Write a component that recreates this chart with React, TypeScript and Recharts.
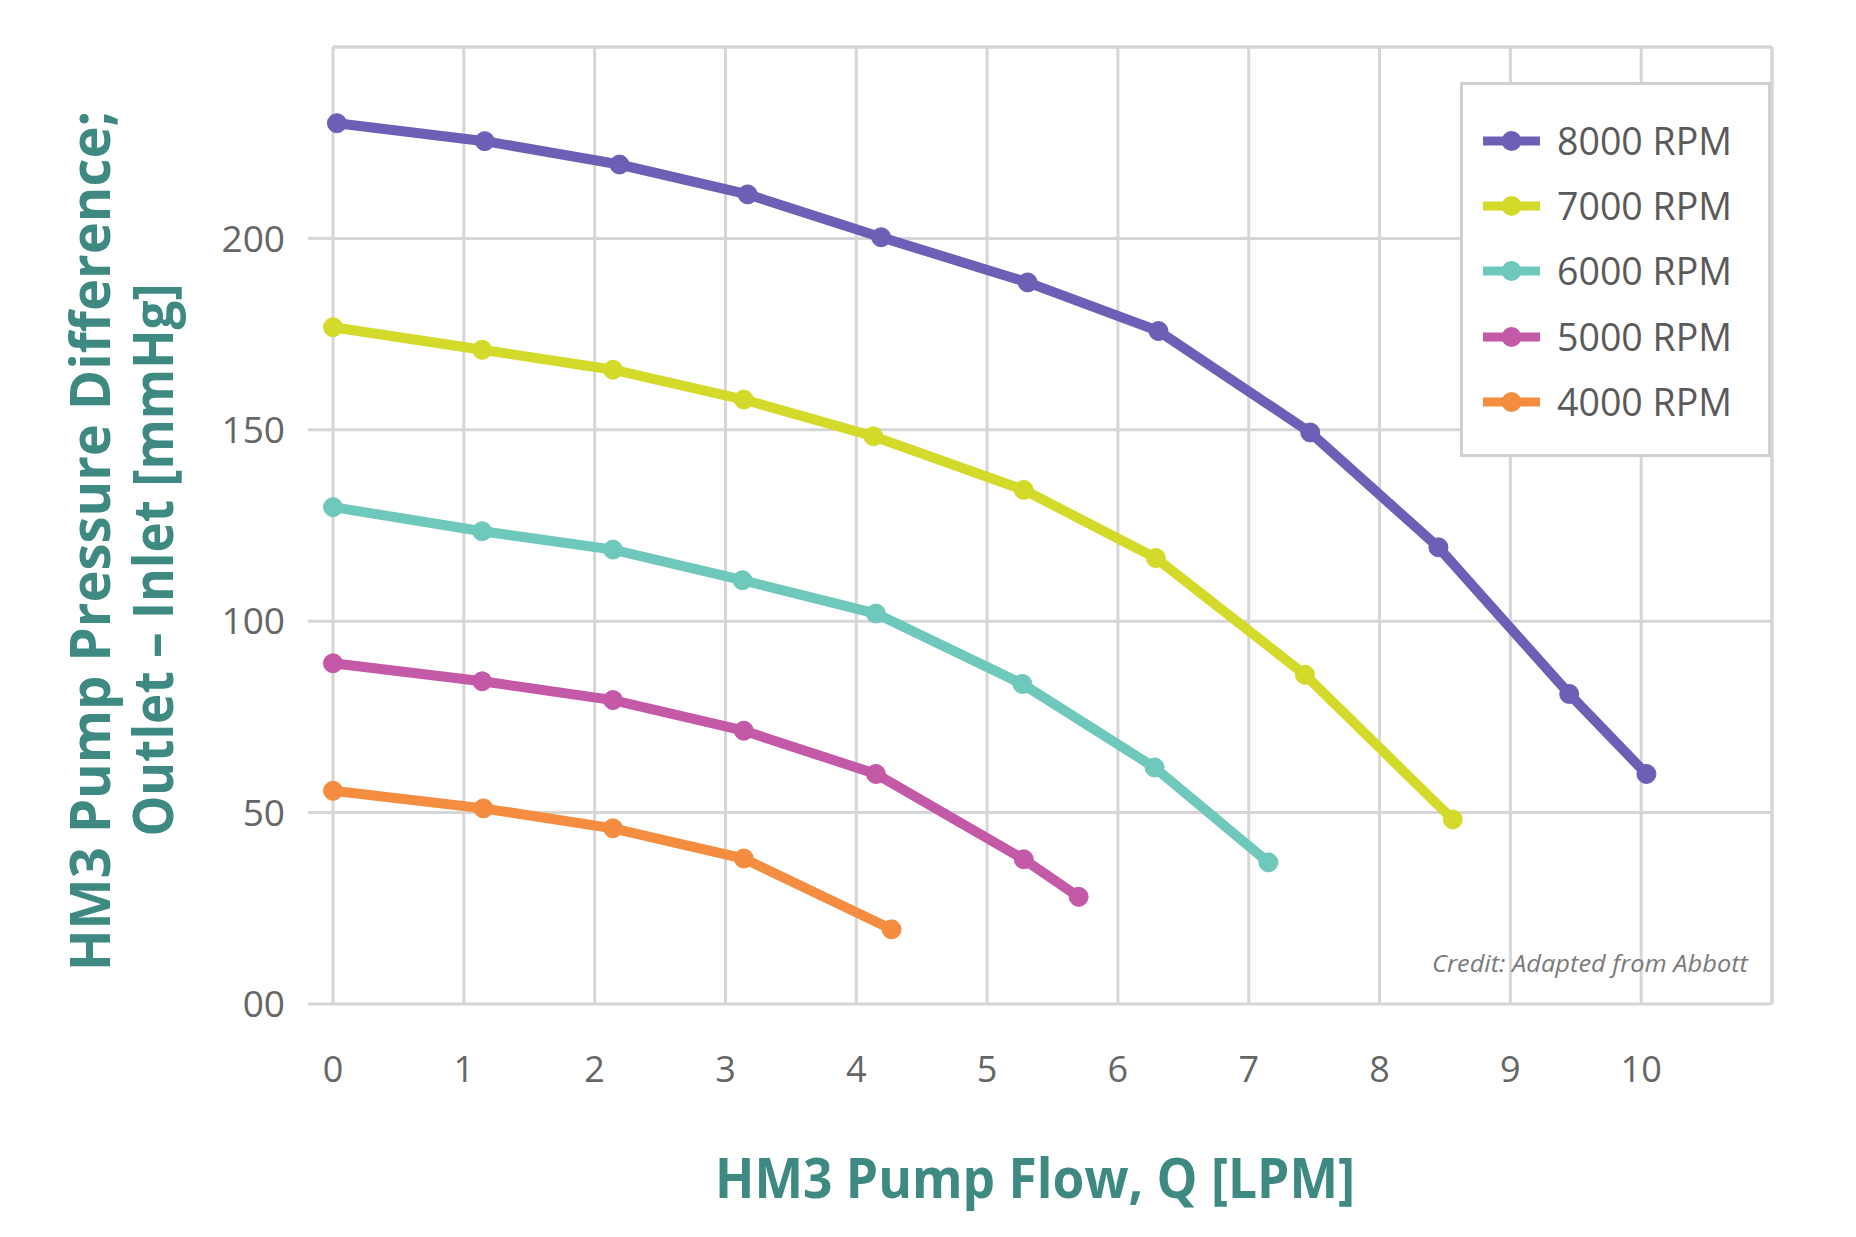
import React from 'react';
import { LineChart, Line, XAxis, YAxis, CartesianGrid, ReferenceLine, Legend } from 'recharts';

const flow8000 = [0.03, 1.16, 2.19, 3.17, 4.19, 5.31, 6.31, 7.47, 8.45, 9.45, 10.04];
const pressure8000 = [230.1, 225.4, 219.3, 211.5, 200.3, 188.5, 175.8, 149.3, 119.3, 81.0, 60.1];
const flow7000 = [0, 1.14, 2.14, 3.14, 4.13, 5.28, 6.29, 7.43, 8.56];
const pressure7000 = [176.8, 170.9, 165.7, 157.9, 148.3, 134.3, 116.5, 86.0, 48.2];
const flow6000 = [0, 1.14, 2.14, 3.13, 4.15, 5.27, 6.28, 7.15];
const pressure6000 = [129.8, 123.5, 118.7, 110.7, 102.0, 83.6, 61.8, 37.0];
const flow5000 = [0, 1.14, 2.14, 3.14, 4.15, 5.28, 5.7];
const pressure5000 = [89.0, 84.3, 79.4, 71.4, 60.1, 37.8, 28.0];
const flow4000 = [0, 1.15, 2.14, 3.14, 4.27];
const pressure4000 = [55.7, 51.1, 45.9, 38.0, 19.5];

const seriesNames = ['8000 RPM', '7000 RPM', '6000 RPM', '5000 RPM', '4000 RPM'];
const seriesColors = ['#6c60b6', '#d4da2a', '#6fc8bc', '#c459a7', '#f48d3f'];

const xTicks = [0, 1, 2, 3, 4, 5, 6, 7, 8, 9, 10];
const yTicks = [0, 50, 100, 150, 200];

const zip = (xs: number[], ys: number[]) => xs.map((x, i) => ({ x, y: ys[i] }));

const series = [
  zip(flow8000, pressure8000),
  zip(flow7000, pressure7000),
  zip(flow6000, pressure6000),
  zip(flow5000, pressure5000),
  zip(flow4000, pressure4000),
];

const TITLE_COLOR = '#3e8a83';
const GRID = '#d6d6d6';
const FONT = '"Open Sans", "Noto Sans", sans-serif';

const LegendBox = () => (
  <div
    style={{
      width: 311,
      height: 375,
      boxSizing: 'border-box',
      border: '3px solid #d0d0d0',
      background: '#ffffff',
      paddingTop: 23,
      fontFamily: FONT,
    }}
  >
    {seriesNames.map((name, i) => (
      <div key={name} style={{ height: 65.3, display: 'flex', alignItems: 'center' }}>
        <svg width={57} height={22} style={{ marginLeft: 20, display: 'block' }}>
          <line x1={0} y1={11} x2={57} y2={11} stroke={seriesColors[i]} strokeWidth={9} />
          <circle cx={28.5} cy={11} r={10} fill={seriesColors[i]} />
        </svg>
        <span style={{ marginLeft: 17, fontSize: 37.5, color: '#5a5a5a', lineHeight: 1, whiteSpace: 'nowrap' }}>{name}</span>
      </div>
    ))}
  </div>
);

const YTitle = () => (
  <g>
    <text
      x={110}
      y={541}
      transform="rotate(-90 110 541)"
      textAnchor="middle"
      fill={TITLE_COLOR}
      fontFamily={FONT}
      fontWeight={700}
      fontSize={55}
      textLength={860}
      lengthAdjust="spacingAndGlyphs"
    >
      HM3 Pump Pressure Difference;
    </text>
    <text
      x={173}
      y={560}
      transform="rotate(-90 173 560)"
      textAnchor="middle"
      fill={TITLE_COLOR}
      fontFamily={FONT}
      fontWeight={700}
      fontSize={55}
      textLength={553}
      lengthAdjust="spacingAndGlyphs"
    >
      Outlet – Inlet [mmHg]
    </text>
  </g>
);

const XTitle = () => (
  <g>
    <text
      x={1035}
      y={1198}
      textAnchor="middle"
      fill={TITLE_COLOR}
      fontFamily={FONT}
      fontWeight={700}
      fontSize={55}
      textLength={640}
      lengthAdjust="spacingAndGlyphs"
    >
      HM3 Pump Flow, Q [LPM]
    </text>
    <text
      x={1748}
      y={972}
      textAnchor="end"
      fill="#7a7a7a"
      fontFamily={FONT}
      fontStyle="italic"
      fontSize={24}
      textLength={316}
      lengthAdjust="spacingAndGlyphs"
    >
      Credit: Adapted from Abbott
    </text>
  </g>
);

export default function App() {
  return (
    <div style={{ position: 'absolute', left: 0, top: 0, width: 1856, height: 1237, background: '#ffffff' }}>
      <LineChart width={1856} height={1237} margin={{ top: 47, right: 84, bottom: 133, left: 233 }}>
        <CartesianGrid stroke={GRID} strokeWidth={3} />
        <XAxis
          type="number"
          dataKey="x"
          domain={[0, 11]}
          ticks={xTicks}
          height={100}
          axisLine={false}
          tickLine={false}
          tickSize={0}
          tickMargin={52}
          tick={{ fill: '#666666', fontSize: 36, fontFamily: FONT }}
          label={{ content: () => <XTitle /> }}
        />
        <YAxis
          type="number"
          domain={[0, 250]}
          ticks={yTicks}
          width={100}
          axisLine={false}
          tickLine={{ stroke: GRID, strokeWidth: 3 }}
          tickSize={25}
          tickMargin={23}
          tickFormatter={(v: number) => (v === 0 ? '00' : String(v))}
          tick={{ fill: '#666666', fontSize: 37, fontFamily: FONT }}
          label={{ content: () => <YTitle /> }}
        />
        <ReferenceLine y={250} stroke={GRID} strokeWidth={3} />
        <ReferenceLine x={11} stroke={GRID} strokeWidth={3} />
        {series.map((data, i) => (
          <Line
            key={seriesNames[i]}
            data={data}
            dataKey="y"
            name={seriesNames[i]}
            type="linear"
            stroke={seriesColors[i]}
            strokeWidth={10}
            dot={{ r: 9.5, fill: seriesColors[i], stroke: seriesColors[i], strokeWidth: 1 }}
            activeDot={false}
            isAnimationActive={false}
          />
        ))}
        <Legend
          layout="vertical"
          align="center"
          verticalAlign="middle"
          content={() => <LegendBox />}
          wrapperStyle={{ position: 'absolute', left: 1460, top: 82, width: 311, height: 375, margin: 0 }}
        />
      </LineChart>
    </div>
  );
}
